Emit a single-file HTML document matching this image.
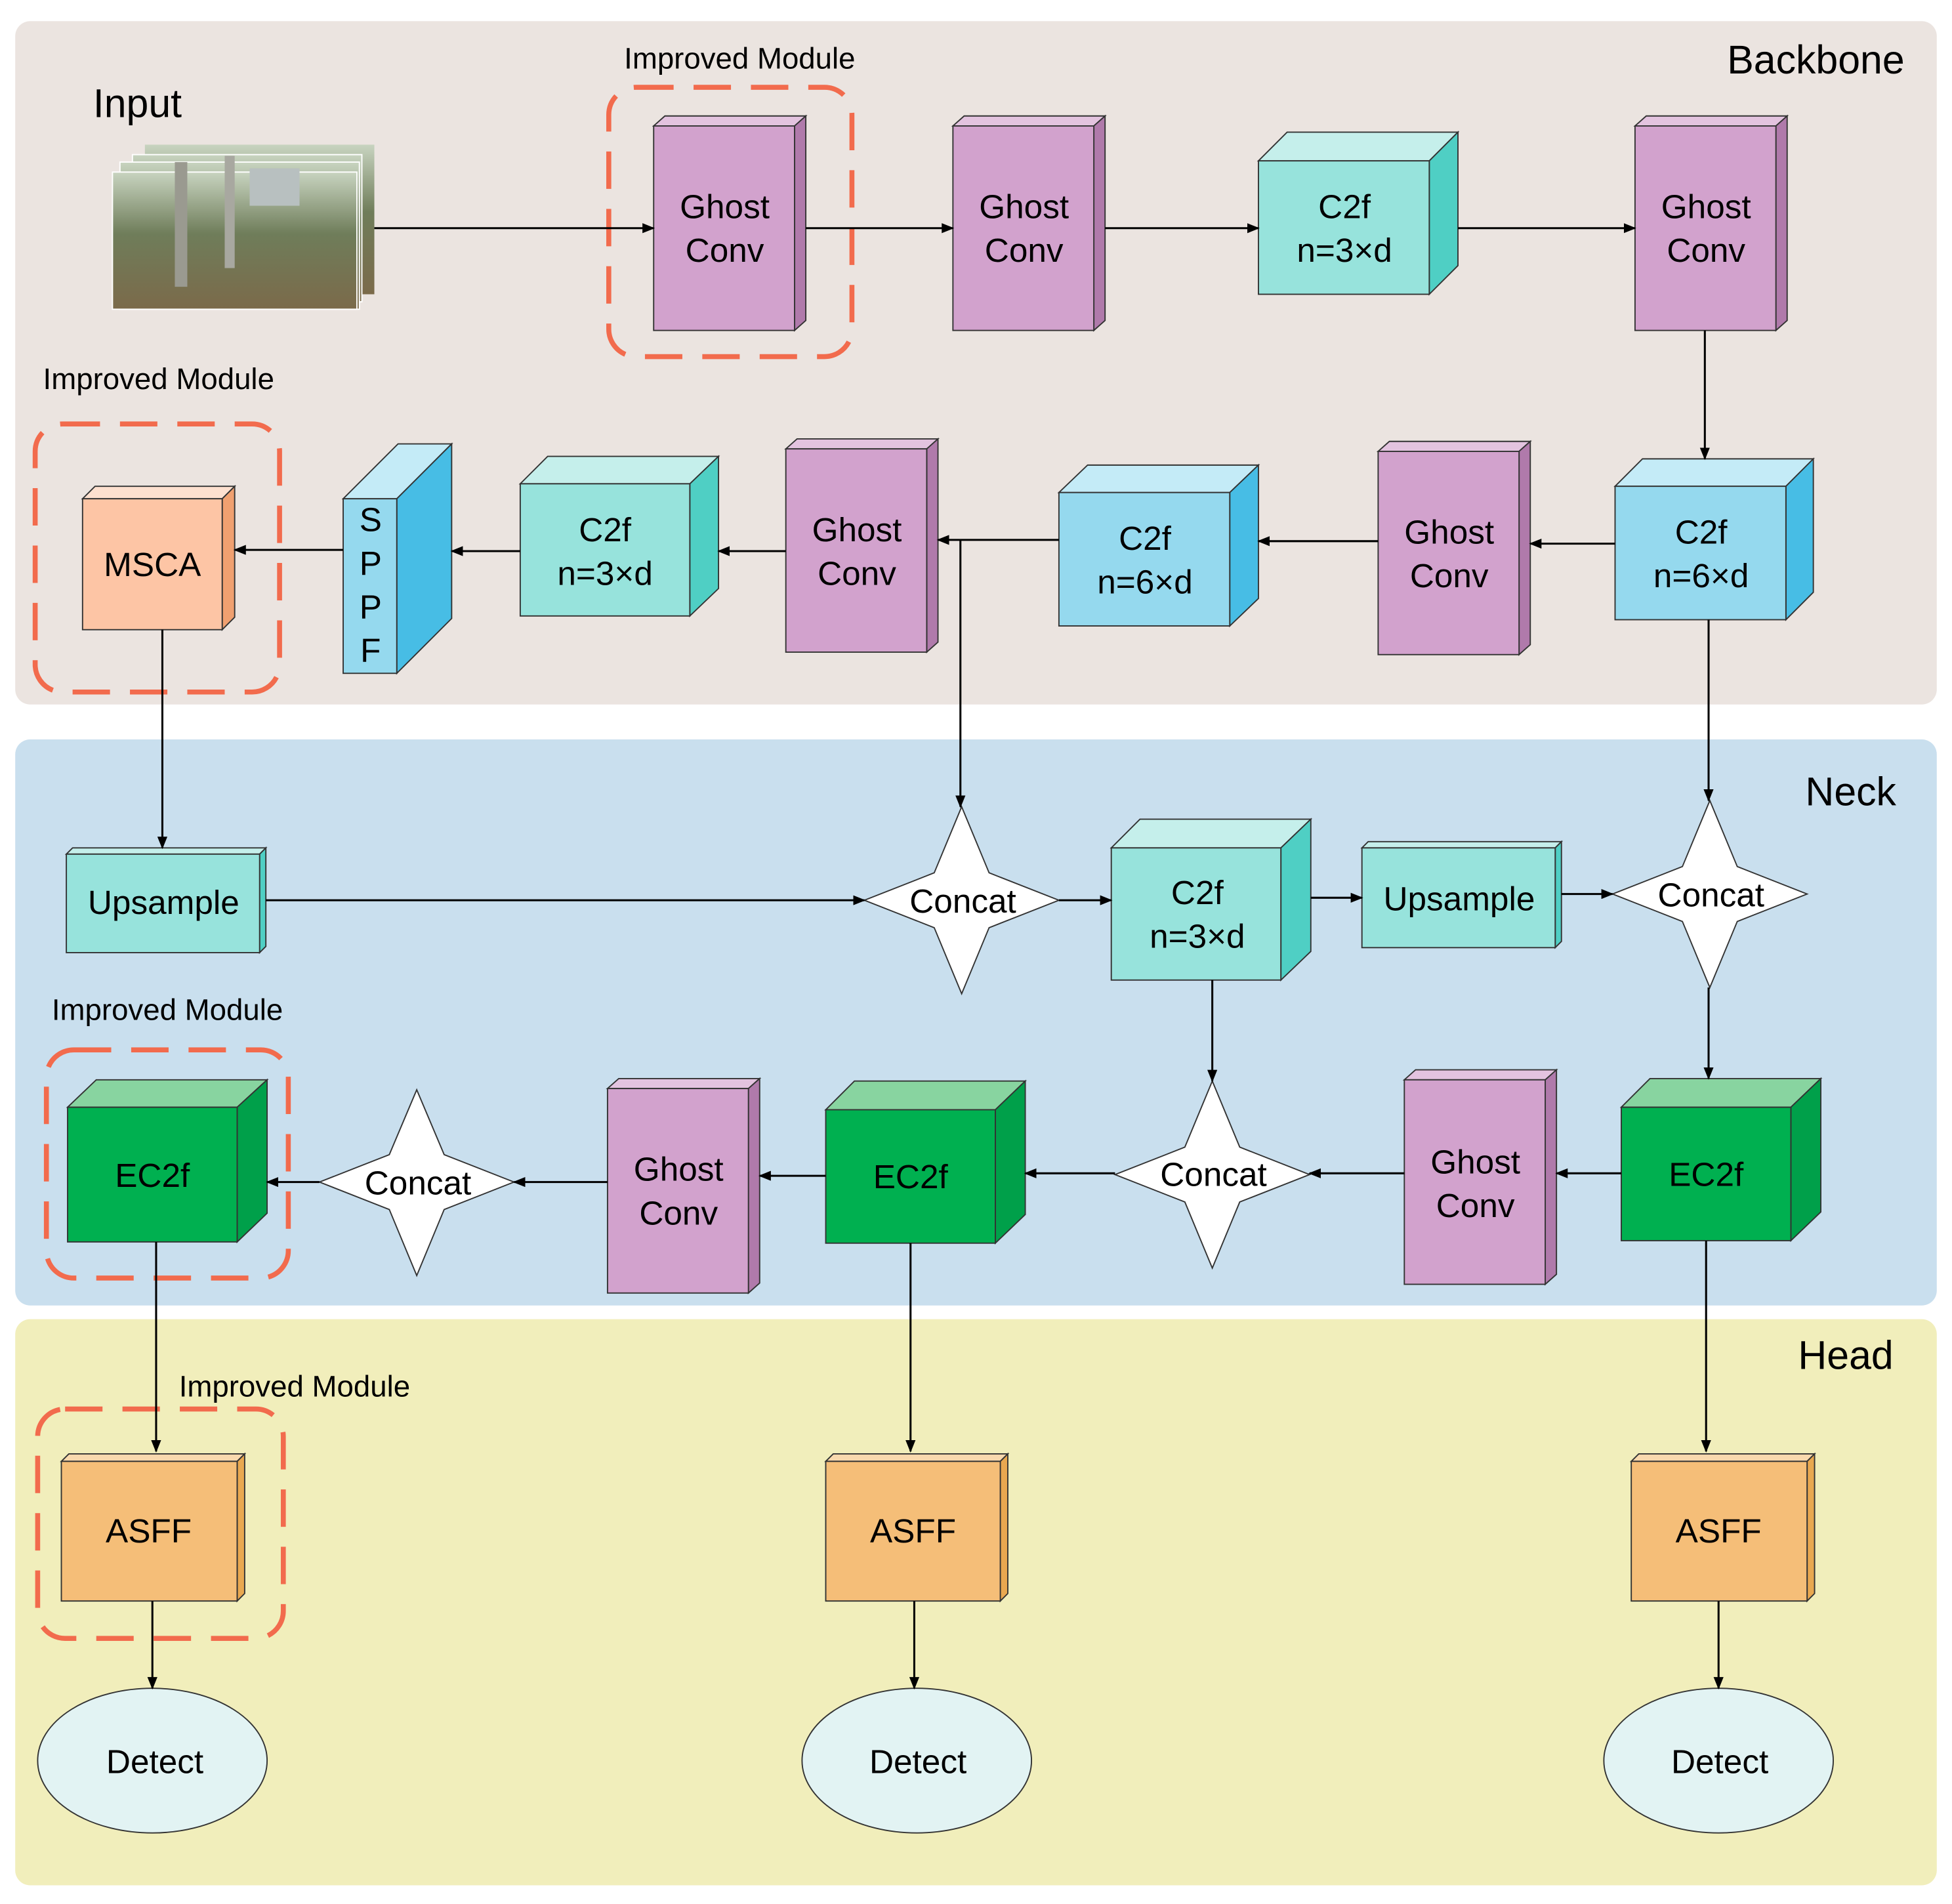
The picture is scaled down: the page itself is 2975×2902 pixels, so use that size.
<!DOCTYPE html>
<html><head><meta charset="utf-8"><style>html,body{margin:0;padding:0;background:#fff}svg{display:block}text{font-family:"Liberation Sans",Arial,sans-serif;fill:#000}</style></head><body>
<svg width="2975" height="2902" viewBox="0 0 1565 1527" xmlns="http://www.w3.org/2000/svg">
<defs><marker id="a" markerWidth="10" markerHeight="8" refX="9" refY="4" orient="auto" markerUnits="userSpaceOnUse"><path d="M0,0 L10,4 L0,8 z" fill="#000"/></marker>
<linearGradient id="g1" x1="0" y1="0" x2="0" y2="1"><stop offset="0" stop-color="#c8d4c0"/><stop offset="0.45" stop-color="#6f7d5a"/><stop offset="1" stop-color="#7b6a4a"/></linearGradient></defs>
<rect x="12" y="17" width="1541" height="548" rx="12" fill="#ebe4e0"/>
<rect x="12" y="593" width="1541" height="454" rx="12" fill="#c9dfee"/>
<rect x="12" y="1058" width="1541" height="454" rx="12" fill="#f1eebb"/>
<text x="1456" y="59" font-size="32" text-anchor="middle">Backbone</text>
<text x="1484" y="646" font-size="32" text-anchor="middle">Neck</text>
<text x="1480" y="1098" font-size="32" text-anchor="middle">Head</text>
<text x="110" y="94" font-size="32" text-anchor="middle">Input</text>
<g font-size="24" text-anchor="middle">
<text x="593" y="55">Improved Module</text><text x="127" y="312">Improved Module</text><text x="134" y="818">Improved Module</text><text x="236" y="1120">Improved Module</text></g>
<g fill="none" stroke="#f26b4d" stroke-width="4" stroke-dasharray="30,16">
<rect x="488" y="70" width="195" height="216" rx="22"/><rect x="28" y="340" width="196" height="215" rx="22"/><rect x="37" y="842" width="194" height="183" rx="22"/><rect x="30" y="1130" width="197" height="184" rx="22"/></g>
<!-- input images -->
<rect x="116" y="116" width="184" height="120" fill="url(#g1)"/>
<rect x="106" y="124" width="184" height="118" fill="url(#g1)" stroke="#fff"/>
<rect x="96" y="130" width="192" height="118" fill="url(#g1)" stroke="#fff"/>
<rect x="90" y="138" width="196" height="110" fill="url(#g1)" stroke="#fff"/>
<rect x="140" y="130" width="10" height="100" fill="#9a9a90"/><rect x="180" y="125" width="8" height="90" fill="#a8a8a0"/><rect x="200" y="135" width="40" height="30" fill="#b8c0c0"/>
<g id="boxes" stroke="#333" stroke-width="1">
</g>
<g stroke-width="1" stroke="#333">
<!-- box macro: front, top, side -->
<!-- Ghost 1 -->
<path d="M524,101 L533,93 L646,93 L637,101z" fill="#e3c3df"/><path d="M637,101 L646,93 L646,257 L637,265z" fill="#b07aab"/><rect x="524" y="101" width="113" height="164" fill="#d2a2cd"/>
<path d="M764,101 L773,93 L886,93 L877,101z" fill="#e3c3df"/><path d="M877,101 L886,93 L886,257 L877,265z" fill="#b07aab"/><rect x="764" y="101" width="113" height="164" fill="#d2a2cd"/>
<path d="M1009,129 L1032,106 L1169,106 L1146,129z" fill="#c5efeb"/><path d="M1146,129 L1169,106 L1169,213 L1146,236z" fill="#4fcfc4"/><rect x="1009" y="129" width="137" height="107" fill="#97e3dc"/>
<path d="M1311,101 L1320,93 L1433,93 L1424,101z" fill="#e3c3df"/><path d="M1424,101 L1433,93 L1433,257 L1424,265z" fill="#b07aab"/><rect x="1311" y="101" width="113" height="164" fill="#d2a2cd"/>
<path d="M1295,390 L1317,368 L1454,368 L1432,390z" fill="#c4ebf7"/><path d="M1432,390 L1454,368 L1454,475 L1432,497z" fill="#47bde5"/><rect x="1295" y="390" width="137" height="107" fill="#95d9ee"/>
<path d="M1105,362 L1114,354 L1227,354 L1218,362z" fill="#e3c3df"/><path d="M1218,362 L1227,354 L1227,517 L1218,525z" fill="#b07aab"/><rect x="1105" y="362" width="113" height="163" fill="#d2a2cd"/>
<path d="M849,395 L872,373 L1009,373 L986,395z" fill="#c4ebf7"/><path d="M986,395 L1009,373 L1009,480 L986,502z" fill="#47bde5"/><rect x="849" y="395" width="137" height="107" fill="#95d9ee"/>
<path d="M630,360 L639,352 L752,352 L743,360z" fill="#e3c3df"/><path d="M743,360 L752,352 L752,515 L743,523z" fill="#b07aab"/><rect x="630" y="360" width="113" height="163" fill="#d2a2cd"/>
<path d="M417,388 L439,366 L576,366 L553,388z" fill="#c5efeb"/><path d="M553,388 L576,366 L576,472 L553,494z" fill="#4fcfc4"/><rect x="417" y="388" width="136" height="106" fill="#97e3dc"/>
<path d="M275,400 L319,356 L362,356 L318,400z" fill="#c4ebf7"/><path d="M318,400 L362,356 L362,496 L318,540z" fill="#47bde5"/><rect x="275" y="400" width="43" height="140" fill="#95d9ee"/>
<path d="M66,400 L76,390 L188,390 L178,400z" fill="#fde0cf"/><path d="M178,400 L188,390 L188,495 L178,505z" fill="#f0a070"/><rect x="66" y="400" width="112" height="105" fill="#fdc5a5"/>
<!-- neck -->
<path d="M53,685 L58,680 L213,680 L208,685z" fill="#c5efeb"/><path d="M208,685 L213,680 L213,759 L208,764z" fill="#4fcfc4"/><rect x="53" y="685" width="155" height="79" fill="#97e3dc"/>
<path d="M891,680 L914,657 L1051,657 L1027,680z" fill="#c5efeb"/><path d="M1027,680 L1051,657 L1051,763 L1027,786z" fill="#4fcfc4"/><rect x="891" y="680" width="136" height="106" fill="#97e3dc"/>
<path d="M1092,680 L1097,675 L1252,675 L1247,680z" fill="#c5efeb"/><path d="M1247,680 L1252,675 L1252,755 L1247,760z" fill="#4fcfc4"/><rect x="1092" y="680" width="155" height="80" fill="#97e3dc"/>
<path d="M1300,888 L1323,865 L1460,865 L1436,888z" fill="#88d4a0"/><path d="M1436,888 L1460,865 L1460,972 L1436,995z" fill="#00a04a"/><rect x="1300" y="888" width="136" height="107" fill="#00b050"/>
<path d="M1126,866 L1135,858 L1248,858 L1239,866z" fill="#e3c3df"/><path d="M1239,866 L1248,858 L1248,1022 L1239,1030z" fill="#b07aab"/><rect x="1126" y="866" width="113" height="164" fill="#d2a2cd"/>
<path d="M662,890 L685,867 L822,867 L798,890z" fill="#88d4a0"/><path d="M798,890 L822,867 L822,974 L798,997z" fill="#00a04a"/><rect x="662" y="890" width="136" height="107" fill="#00b050"/>
<path d="M487,873 L496,865 L609,865 L600,873z" fill="#e3c3df"/><path d="M600,873 L609,865 L609,1029 L600,1037z" fill="#b07aab"/><rect x="487" y="873" width="113" height="164" fill="#d2a2cd"/>
<path d="M54,888 L77,866 L214,866 L190,888z" fill="#88d4a0"/><path d="M190,888 L214,866 L214,973 L190,996z" fill="#00a04a"/><rect x="54" y="888" width="136" height="108" fill="#00b050"/>
<!-- head -->
<path d="M49,1172 L55,1166 L196,1166 L190,1172z" fill="#f9d9ae"/><path d="M190,1172 L196,1166 L196,1278 L190,1284z" fill="#e9a850"/><rect x="49" y="1172" width="141" height="112" fill="#f5be78"/>
<path d="M662,1172 L668,1166 L808,1166 L802,1172z" fill="#f9d9ae"/><path d="M802,1172 L808,1166 L808,1278 L802,1284z" fill="#e9a850"/><rect x="662" y="1172" width="140" height="112" fill="#f5be78"/>
<path d="M1308,1172 L1314,1166 L1455,1166 L1449,1172z" fill="#f9d9ae"/><path d="M1449,1172 L1455,1166 L1455,1278 L1449,1284z" fill="#e9a850"/><rect x="1308" y="1172" width="141" height="112" fill="#f5be78"/>
<!-- stars -->
<path d="M771,647 L793,700 L849,722 L793,744 L771,797 L749,744 L693,722 L749,700z" fill="#fff"/>
<path d="M1371,642 L1393,695 L1449,717 L1393,739 L1371,792 L1349,739 L1293,717 L1349,695z" fill="#fff"/>
<path d="M972,867 L994,920 L1050,942 L994,964 L972,1017 L950,964 L894,942 L950,920z" fill="#fff"/>
<path d="M334,874 L356,926 L412,948 L356,970 L334,1023 L312,970 L256,948 L312,926z" fill="#fff"/>
<ellipse cx="122" cy="1412" rx="92" ry="58" fill="#e2f3f3"/>
<ellipse cx="735" cy="1412" rx="92" ry="58" fill="#e2f3f3"/>
<ellipse cx="1378" cy="1412" rx="92" ry="58" fill="#e2f3f3"/>
</g>
<g stroke="#000" stroke-width="1.6" fill="none" marker-end="url(#a)">
<line x1="300" y1="183" x2="524" y2="183"/><line x1="646" y1="183" x2="764" y2="183"/><line x1="886" y1="183" x2="1009" y2="183"/><line x1="1169" y1="183" x2="1311" y2="183"/>
<line x1="1367" y1="265" x2="1367" y2="368"/>
<line x1="1295" y1="436" x2="1227" y2="436"/><line x1="1105" y1="434" x2="1009" y2="434"/><line x1="849" y1="433" x2="752" y2="433"/>
<line x1="630" y1="442" x2="576" y2="442"/><line x1="417" y1="442" x2="362" y2="442"/><line x1="275" y1="441" x2="188" y2="441"/>
<line x1="130" y1="505" x2="130" y2="680"/><line x1="770" y1="433" x2="770" y2="647"/>
<line x1="213" y1="722" x2="693" y2="722"/><line x1="849" y1="722" x2="891" y2="722"/><line x1="1051" y1="720" x2="1092" y2="720"/><line x1="1252" y1="717" x2="1293" y2="717"/>
<line x1="1370" y1="497" x2="1370" y2="642"/><line x1="1370" y1="792" x2="1370" y2="865"/>
<line x1="1300" y1="941" x2="1248" y2="941"/><line x1="1126" y1="941" x2="1050" y2="941"/><line x1="972" y1="786" x2="972" y2="867"/>
<line x1="894" y1="941" x2="822" y2="941"/><line x1="662" y1="943" x2="609" y2="943"/><line x1="487" y1="948" x2="412" y2="948"/><line x1="256" y1="948" x2="214" y2="948"/>
<line x1="125" y1="996" x2="125" y2="1164"/><line x1="730" y1="997" x2="730" y2="1164"/><line x1="1368" y1="995" x2="1368" y2="1164"/>
<line x1="122" y1="1284" x2="122" y2="1354"/><line x1="733" y1="1284" x2="733" y2="1354"/><line x1="1378" y1="1284" x2="1378" y2="1354"/>
</g>
<g font-size="27" text-anchor="middle">
<text x="581" y="175">Ghost</text><text x="581" y="210">Conv</text>
<text x="821" y="175">Ghost</text><text x="821" y="210">Conv</text>
<text x="1078" y="175">C2f</text><text x="1078" y="210">n=3×d</text>
<text x="1368" y="175">Ghost</text><text x="1368" y="210">Conv</text>
<text x="1364" y="436">C2f</text><text x="1364" y="471">n=6×d</text>
<text x="1162" y="436">Ghost</text><text x="1162" y="471">Conv</text>
<text x="918" y="441">C2f</text><text x="918" y="476">n=6×d</text>
<text x="687" y="434">Ghost</text><text x="687" y="469">Conv</text>
<text x="485" y="434">C2f</text><text x="485" y="469">n=3×d</text>
<text x="297" y="426">S</text><text x="297" y="461">P</text><text x="297" y="496">P</text><text x="297" y="531">F</text>
<text x="122" y="462">MSCA</text>
<text x="131" y="733">Upsample</text><text x="772" y="732">Concat</text>
<text x="960" y="725">C2f</text><text x="960" y="760">n=3×d</text>
<text x="1170" y="730">Upsample</text><text x="1372" y="727">Concat</text>
<text x="1368" y="951">EC2f</text><text x="1183" y="941">Ghost</text><text x="1183" y="976">Conv</text>
<text x="973" y="951">Concat</text><text x="730" y="953">EC2f</text>
<text x="544" y="947">Ghost</text><text x="544" y="982">Conv</text>
<text x="335" y="958">Concat</text><text x="122" y="952">EC2f</text>
<text x="119" y="1237">ASFF</text><text x="732" y="1237">ASFF</text><text x="1378" y="1237">ASFF</text>
<text x="124" y="1422">Detect</text><text x="736" y="1422">Detect</text><text x="1379" y="1422">Detect</text>
</g>
</svg>
</body></html>
